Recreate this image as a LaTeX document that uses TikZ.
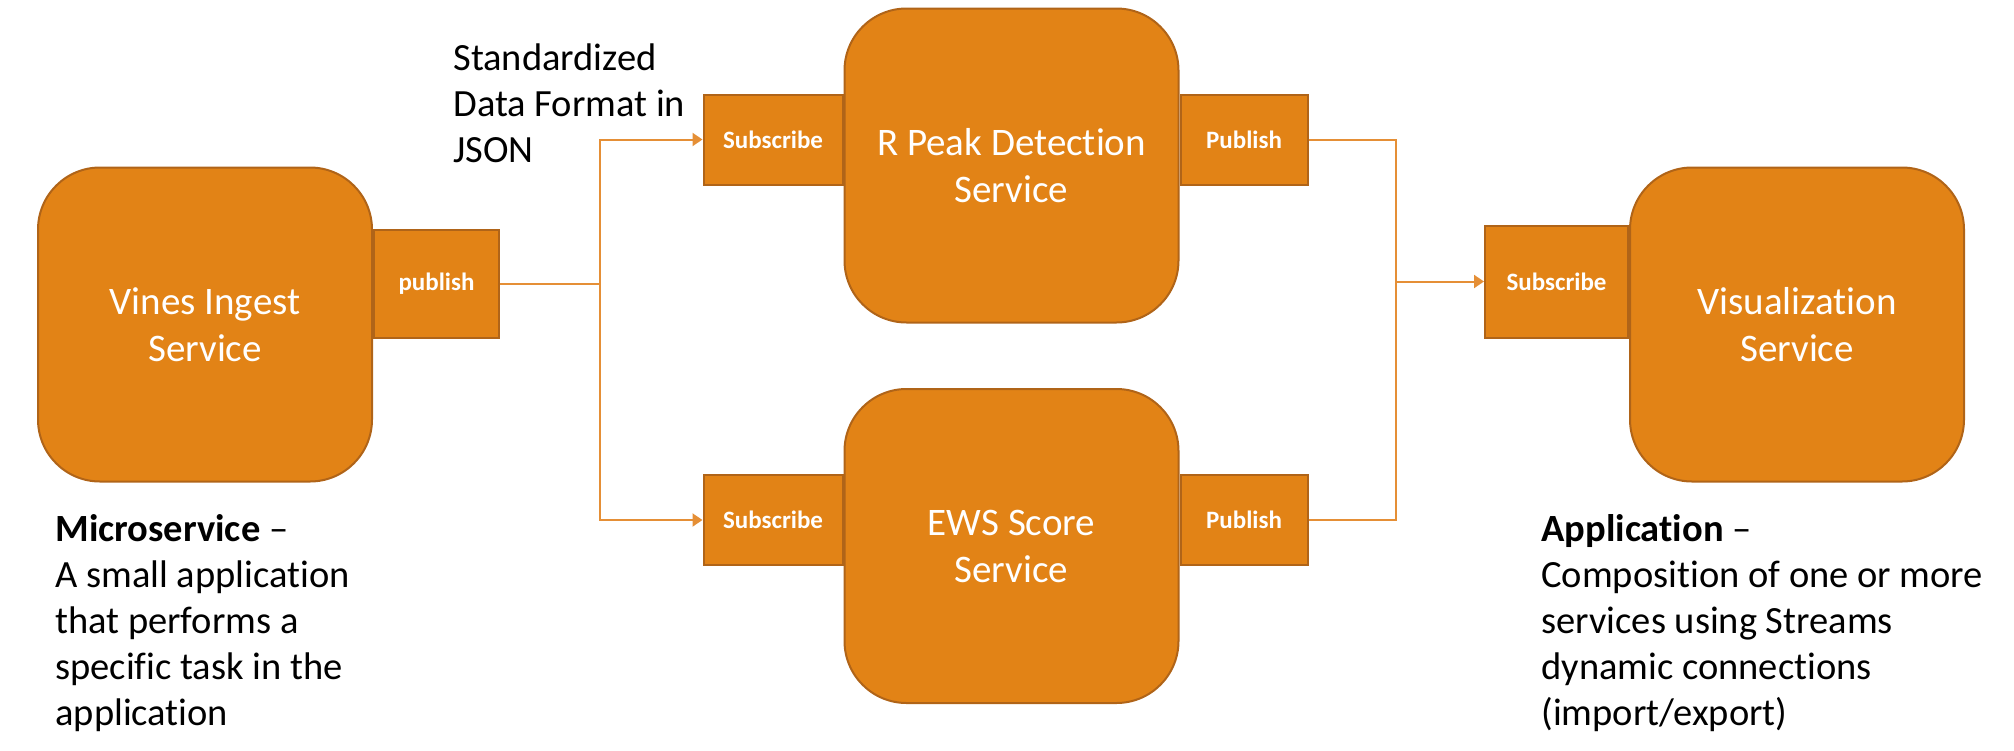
\documentclass[tikz,border=0pt]{standalone}
\usepackage{fontspec}
\setmainfont{Carlito}[Ligatures=NoCommon]
\usetikzlibrary{positioning,arrows.meta}

\definecolor{svcfill}{RGB}{226,131,22}
\definecolor{svcedge}{RGB}{176,100,24}
\definecolor{linkline}{RGB}{229,143,54}

\tikzset{
    service/.style={draw=svcedge, line width=1pt, fill=svcfill, rounded corners=31pt,
        text=white, align=center, font=\fontsize{19.5}{23.5}\selectfont,
        minimum width=167pt, minimum height=157pt, inner sep=0pt},
    port/.style={draw=svcedge, line width=1pt, fill=svcfill, text=white,
        font=\bfseries\fontsize{12.5}{15}\selectfont, minimum height=45pt, inner sep=0pt},
    link/.style={draw=linkline, line width=1pt},
    linkarrow/.style={link, -{Triangle[length=5pt, width=6.5pt]}},
    note/.style={align=left, anchor=north west, inner sep=0pt,
        font=\fontsize{19.25}{23}\selectfont}
}

\begin{document}
\begin{tikzpicture}[x=0.5pt, y=-0.5pt]
    \useasboundingbox (0,0) rectangle (2014,750);

    % Services
    \node[service] (vines) at (205,324.5) {Vines Ingest\\Service};
    \node[service] (rpeak) at (1011.5,165.5) {R Peak Detection\\Service};
    \node[service] (ews) at (1011.5,546) {EWS Score\\Service};
    \node[service] (vis) at (1797,324.5) {Visualization\\Service};

    % Ports
    \node[port, minimum width=62.5pt, minimum height=54pt, right=0pt of vines, yshift=20.5pt] (vinespub) {publish};
    \node[port, minimum width=69.5pt, left=0pt of rpeak, yshift=13pt] (rpeaksub) {Subscribe};
    \node[port, minimum width=63.5pt, right=0pt of rpeak, yshift=13pt] (rpeakpub) {Publish};
    \node[port, minimum width=69.5pt, left=0pt of ews, yshift=13pt] (ewssub) {Subscribe};
    \node[port, minimum width=63.5pt, right=0pt of ews, yshift=13pt] (ewspub) {Publish};
    \node[port, minimum width=71.5pt, minimum height=56pt, left=0pt of vis, yshift=21.5pt] (vissub) {Subscribe};

    % Fan out
    \coordinate (forkL) at (600,0);
    \draw[link] (vinespub.east) -- (vinespub.east -| forkL);
    \draw[linkarrow] (vinespub.east -| forkL) |- (rpeaksub.west);
    \draw[linkarrow] (vinespub.east -| forkL) |- (ewssub.west);

    % Fan in
    \coordinate (forkR) at (1396,0);
    \draw[link] (rpeakpub.east) -- (rpeakpub.east -| forkR) -- (ewspub.east -| forkR) -- (ewspub.east);
    \draw[linkarrow] (vissub.west -| forkR) -- (vissub.west);

    % Notes
    \node[note] (format) at (453,43) {Standardized\\Data Format in\\JSON};
    \node[note] (micro) at (55,514) {\textbf{Microservice} --\\A small application\\that performs a\\specific task in the\\application};
    \node[note] (app) at (1541,514) {\textbf{Application} --\\Composition of one or more\\services using Streams\\dynamic connections\\(import/export)};
\end{tikzpicture}
\end{document}
